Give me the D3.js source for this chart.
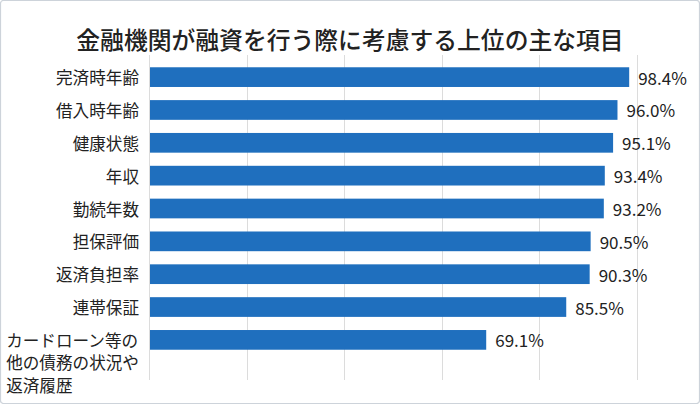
<!DOCTYPE html>
<html>
<head>
<meta charset="utf-8">
<script src="https://cdn.jsdelivr.net/npm/d3@7"></script>
<style>
  html, body { margin: 0; padding: 0; background: #fff; }
  svg { display: block; }
  text { font-family: "Noto Sans CJK JP", "Noto Sans", sans-serif; fill: #222; }
</style>
</head>
<body>
<svg id="chart" width="700" height="404"></svg>
<script>
const title = "金融機関が融資を行う際に考慮する上位の主な項目";
const categories = ["完済時年齢", "借入時年齢", "健康状態", "年収", "勤続年数", "担保評価", "返済負担率", "連帯保証", "カードローン等の他の債務の状況や返済履歴"];
const values = [98.4, 96.0, 95.1, 93.4, 93.2, 90.5, 90.3, 85.5, 69.1];
const gridTicks = [0, 20, 40, 60, 80, 100];

const svg = d3.select("#chart");
const W = 700, H = 404;

svg.append("rect")
  .attr("x", 0.5).attr("y", 0.5)
  .attr("width", W - 1).attr("height", H - 1)
  .attr("rx", 3)
  .attr("fill", "#fff")
  .attr("stroke", "#cdd3da")
  .attr("stroke-width", 1.2);

svg.append("text")
  .attr("x", 350).attr("y", 38)
  .attr("text-anchor", "middle")
  .attr("dominant-baseline", "central")
  .attr("font-size", 23.8)
  .attr("font-weight", 500)
  .text(title);

const x = d3.scaleLinear().domain([0, 100]).range([149, 637]);
const y = d3.scaleBand().domain(categories).range([60.7, 356.3]).paddingInner(0.4).paddingOuter(0.2);

const gridTop = 55, gridBottom = 380;
svg.append("g").selectAll("line").data(gridTicks).join("line")
  .attr("x1", d => Math.round(x(d)) + 0.5).attr("x2", d => Math.round(x(d)) + 0.5)
  .attr("y1", gridTop).attr("y2", gridBottom)
  .attr("stroke", "#dcdcdc").attr("stroke-width", 1);

svg.append("g").selectAll("rect").data(values).join("rect")
  .attr("x", x(0) + 1)
  .attr("y", (d, i) => y(categories[i]))
  .attr("width", d => x(d) - x(0) - 1)
  .attr("height", y.bandwidth())
  .attr("fill", "#1f6fbe");

svg.append("g").selectAll("text").data(values).join("text")
  .attr("x", d => x(d) + 9)
  .attr("y", (d, i) => y(categories[i]) + y.bandwidth() / 2)
  .attr("dominant-baseline", "central")
  .attr("font-size", 17)
  .text(d => d.toFixed(1) + "%");

const labelRight = 139, fs = 16.6, perLine = 8;
categories.forEach((c, i) => {
  const cy = y(c) + y.bandwidth() / 2;
  if (c.length <= perLine) {
    svg.append("text")
      .attr("x", labelRight).attr("y", cy)
      .attr("text-anchor", "end")
      .attr("dominant-baseline", "central")
      .attr("font-size", fs)
      .text(c);
  } else {
    const lines = [];
    for (let k = 0; k < c.length; k += perLine) lines.push(c.slice(k, k + perLine));
    const t = svg.append("text")
      .attr("font-size", fs)
      .attr("dominant-baseline", "central");
    lines.forEach((ln, j) => {
      t.append("tspan")
        .attr("x", labelRight - perLine * fs)
        .attr("y", cy + j * 22.5)
        .text(ln);
    });
  }
});
</script>
</body>
</html>
